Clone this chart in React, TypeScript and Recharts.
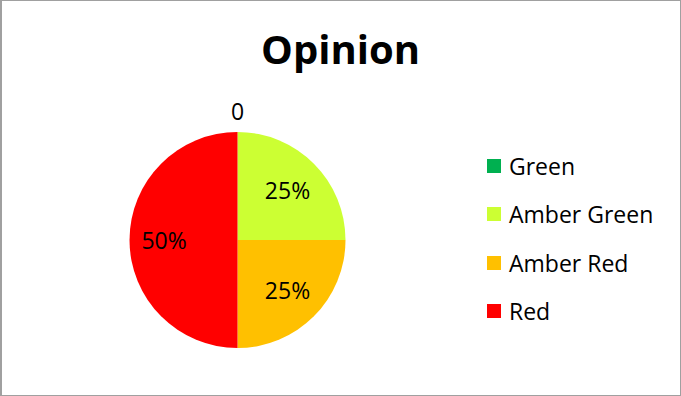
import React from "react";
import { PieChart, Pie, Cell, Legend } from "recharts";

const categories = ["Green", "Amber Green", "Amber Red", "Red"];
const values = [0, 0.25, 0.25, 0.5];
const colors = ["#00B050", "#CCFF33", "#FFC000", "#FF0000"];
const title = "Opinion";

const data = categories.map((name, i) => ({ name, value: values[i] }));

const FONT = "'Open Sans', 'Noto Sans', sans-serif";
const RADIAN = Math.PI / 180;

const renderLabel = (props: any) => {
  const { cx, cy, midAngle, outerRadius, value, percent } = props;
  if (!value) {
    const r = outerRadius + 21;
    const x = cx + r * Math.cos(-midAngle * RADIAN);
    const y = cy + r * Math.sin(-midAngle * RADIAN);
    return (
      <text x={x} y={y} textAnchor="middle" dominantBaseline="central" fill="#000" fontSize={23} fontFamily={FONT}>
        {String(value)}
      </text>
    );
  }
  const r = outerRadius * (percent >= 0.5 ? 0.68 : 0.655);
  const x = cx + r * Math.cos(-midAngle * RADIAN);
  const y = cy + r * Math.sin(-midAngle * RADIAN);
  return (
    <text x={x} y={y} textAnchor="middle" dominantBaseline="central" fill="#000" fontSize={23} fontFamily={FONT}>
      {`${Math.round(percent * 100)}%`}
    </text>
  );
};

const LegendContent = () => (
  <div style={{ fontFamily: FONT, fontSize: 23, color: "#000" }}>
    {categories.map((c, i) => (
      <div key={c} style={{ display: "flex", alignItems: "center", height: 48.3 }}>
        <div style={{ width: 14, height: 14, background: colors[i], marginRight: 8 }} />
        <span style={{ lineHeight: "24px" }}>{c}</span>
      </div>
    ))}
  </div>
);

export default function App() {
  return (
    <div
      style={{
        position: "absolute",
        left: 0,
        top: 0,
        width: 681,
        height: 396,
        boxSizing: "border-box",
        border: "1px solid #a0a0a0",
        borderLeftWidth: 2,
        background: "#fff",
      }}
    >
      <div
        style={{
          position: "absolute",
          left: -2,
          top: 20,
          width: 681,
          textAlign: "center",
          fontFamily: FONT,
          fontWeight: 700,
          fontSize: 40,
          lineHeight: "56px",
          color: "#000",
        }}
      >
        {title}
      </div>
      <div style={{ position: "absolute", left: -2, top: -1 }}>
        <PieChart width={681} height={396} margin={{ top: 0, right: 0, bottom: 0, left: 0 }}>
          <Pie
            data={data}
            dataKey="value"
            nameKey="name"
            cx={237.5}
            cy={240}
            outerRadius={108}
            startAngle={90}
            endAngle={-270}
            stroke="none"
            label={renderLabel}
            labelLine={false}
            isAnimationActive={false}
          >
            {data.map((d, i) => (
              <Cell key={d.name} fill={colors[i]} />
            ))}
          </Pie>
          <Legend
            content={<LegendContent />}
            wrapperStyle={{ left: 487, top: 142, width: 190 }}
          />
        </PieChart>
      </div>
    </div>
  );
}
